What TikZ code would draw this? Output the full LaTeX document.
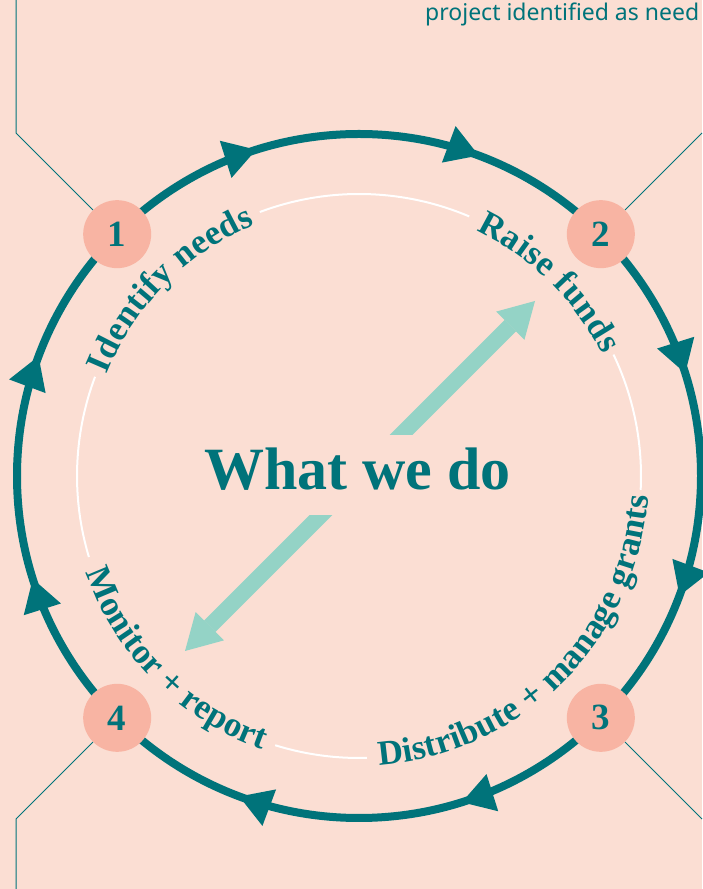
\documentclass[tikz,border=0pt]{standalone}
\usepackage{fontspec}
\setmainfont{Liberation Serif}
\newfontfamily\notefont{Noto Sans}
\usetikzlibrary{arrows.meta,decorations.markings,decorations.text}
\definecolor{peach}{HTML}{FBDED3}
\definecolor{ringteal}{HTML}{00737A}
\definecolor{dotpink}{HTML}{F8B4A3}
\definecolor{mint}{HTML}{94D3C6}
\newcommand{\arcfont}{\fontsize{35}{35}\selectfont\bfseries\color{ringteal}}
\tikzset{
	ringtip/.tip={Triangle[length=32pt,width=39pt,line width=0pt]},
	mintip/.tip={Triangle[length=35pt,width=40pt,line width=0pt]},
	ringline/.style={color=ringteal, draw, line width=8pt},
	whitearc/.style={draw=white, line width=2pt},
	stepdot/.style={circle, fill=dotpink, minimum size=68pt, inner sep=0pt, text=ringteal, font=\fontsize{37}{37}\selectfont\bfseries},
	leadline/.style={draw=ringteal, line width=1pt},
	bigarrow/.style={draw=mint, color=mint, line width=16pt, mintip-mintip},
	titlebox/.style={fill=peach, text=ringteal, font=\fontsize{60}{60}\selectfont\bfseries, inner xsep=14pt, inner ysep=0pt, text height=55pt, text depth=25pt},
	arctext/.style={decorate, decoration={text along path, text align={fit to path}, text={#1}}}
}
\begin{document}
\begin{tikzpicture}[x=1pt,y=1pt]
	\fill[peach] (0,0) rectangle (702,889);
	\useasboundingbox (0,0) rectangle (702,889);
	\coordinate (ctr) at (359,413);
	% centre double arrow, cut by the title
	\coordinate (lowend) at (185,238);
	\coordinate (highend) at (535,588);
	\draw[bigarrow] (lowend) -- (highend);
	\node[titlebox, anchor=base] (title) at (357.5,399) {What we do};
	% inner white ring, broken where the labels sit
	\foreach \s/\e in {110.6/67, 25.5/-2.8, -88.4/-107.3, 159.4/196.7}
		\draw[whitearc] ([shift={(\s:282pt)}]ctr) arc[start angle=\s, end angle=\e, radius=282pt];
	\path[arctext={|\arcfont|Identify needs}] ([shift={(158:272pt)}]ctr) arc[start angle=158, end angle=112.5, radius=272pt];
	\path[arctext={|\arcfont|Raise funds}] ([shift={(64.5:272pt)}]ctr) arc[start angle=64.5, end angle=26.5, radius=272pt];
	\path[arctext={|\arcfont|Distribute + manage grants}] ([shift={(-86:290pt)}]ctr) arc[start angle=-86, end angle=-4, radius=290pt];
	\path[arctext={|\arcfont|Monitor + report}] ([shift={(199.5:290pt)}]ctr) arc[start angle=199.5, end angle=250.5, radius=290pt];
	% outer ring, clockwise
	\draw[ringline, postaction={decorate}, decoration={markings,
		mark=at position 0.0569 with {\arrow{ringtip}},
		mark=at position 0.2014 with {\arrow{ringtip}},
		mark=at position 0.3069 with {\arrow{ringtip}},
		mark=at position 0.4514 with {\arrow{ringtip}},
		mark=at position 0.5569 with {\arrow{ringtip}},
		mark=at position 0.7014 with {\arrow{ringtip}},
		mark=at position 0.8069 with {\arrow{ringtip}},
		mark=at position 0.9514 with {\arrow{ringtip}}}]
		([shift={(90:342pt)}]ctr) arc[start angle=90, end angle=-270, radius=342pt];
	\node[stepdot] (n1) at ([shift={(135:342pt)}]ctr) {1};
	\node[stepdot] (n2) at ([shift={(45:342pt)}]ctr) {2};
	\node[stepdot] (n3) at ([shift={(-45:342pt)}]ctr) {3};
	\node[stepdot] (n4) at ([shift={(-135:342pt)}]ctr) {4};
	% lead lines to the side notes
	\coordinate (c1) at (16,756);
	\coordinate (c1top) at (16,889);
	\coordinate (c2) at (702,756);
	\coordinate (c3) at (702,70);
	\coordinate (c4) at (16,70);
	\coordinate (c4bot) at (16,0);
	\draw[leadline] (n1) -- (c1) -- (c1top);
	\draw[leadline] (n2) -- (c2);
	\draw[leadline] (n3) -- (c3);
	\draw[leadline] (n4) -- (c4) -- (c4bot);
	\node[anchor=base west, inner sep=0pt, text=ringteal, font=\notefont\fontsize{23}{23}\selectfont] (note) at (425,868) {project identified as need};
\end{tikzpicture}
\end{document}
